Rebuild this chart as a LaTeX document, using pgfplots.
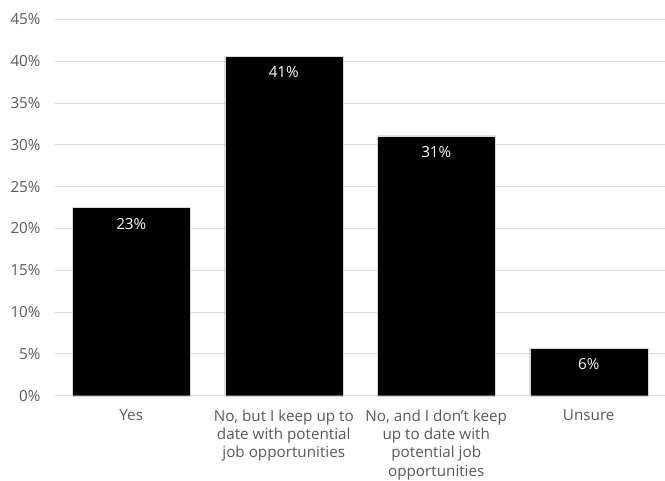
\documentclass[border=0pt]{standalone}
\usepackage{pgfplots}
\pgfplotsset{compat=1.18}
\usepackage{fontspec}
\setmainfont{Open Sans}
\definecolor{tickgray}{HTML}{595959}
\definecolor{gridgray}{HTML}{D9D9D9}
\begin{document}
\begin{tikzpicture}
\useasboundingbox (-55bp,-85.3bp) rectangle (610bp,395.7bp);
\begin{axis}[
  at={(0,0)}, anchor=south west,
  scale only axis,
  width=610bp, height=376.4bp,
  xmin=-0.5, xmax=3.5,
  ymin=0, ymax=45,
  ybar, bar width=118bp,
  axis line style={draw=none},
  axis x line*=bottom,
  tick style={draw=none},
  ytick={0,5,...,45},
  yticklabel={\pgfmathprintnumber{\tick}\%},
  /pgf/number format/assume math mode=true,
  ymajorgrids, grid style={gridgray, line width=0.8pt},
  xtick={0,1,2,3},
  xticklabels={Yes,{No, but I keep up to\\date with potential\\job opportunities},{No, and I don’t keep\\up to date with\\potential job\\opportunities}, Unsure},
  xticklabel style={align=center, font=\fontsize{15.3}{18.5}\selectfont, text=tickgray, yshift=-6bp},
  yticklabel style={font=\fontsize{15.3}{17}\selectfont, text=tickgray, xshift=-11bp},
  nodes near coords,
  point meta=explicit symbolic,
  every node near coord/.append style={anchor=north, yshift=-7bp, text=white, font=\fontsize{15.3}{17}\selectfont},
  clip=false,
]
\addplot[fill=black, draw=gridgray, line width=0.4pt] table[meta=lab] {
x y lab
0 22.5 23\%
1 40.6 41\%
2 31.05 31\%
3 5.7 6\%
};
\end{axis}
\end{tikzpicture}
\end{document}
